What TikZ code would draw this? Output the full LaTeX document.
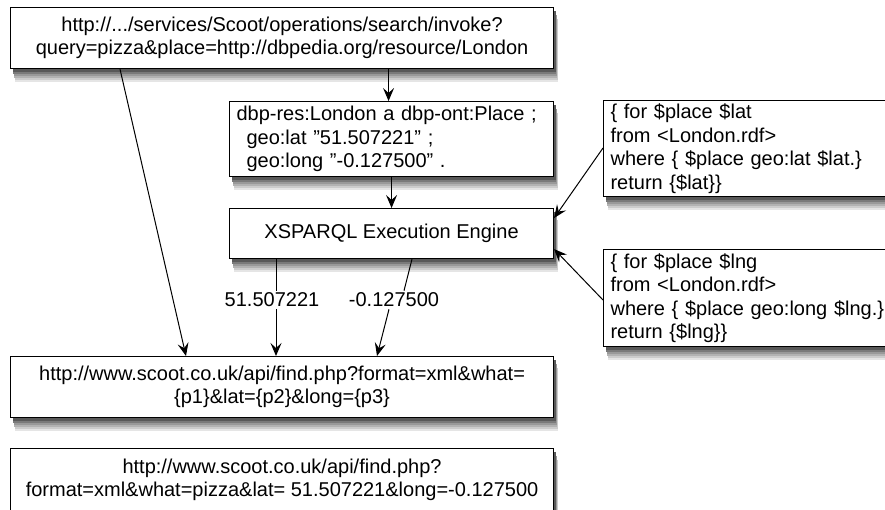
\documentclass[tikz,border=0pt]{standalone}
\usepackage{fontspec}
\setmainfont{Liberation Sans}
\usetikzlibrary{arrows.meta,calc,shadows}
\newcommand\qq{\symbol{"0022}}
\begin{document}
\begin{tikzpicture}[x=1pt,y=-1pt,
  box/.style={draw=black,line width=1.1pt,fill=white,inner xsep=7pt,inner ysep=0pt,
    anchor=north west,font=\fontsize{20}{23.5}\selectfont,
    general shadow={fill=black!10,shadow xshift=4.5pt,shadow yshift=-13pt},
    general shadow={fill=black!20,shadow xshift=4pt,shadow yshift=-11pt},
    general shadow={fill=black!30,shadow xshift=3.5pt,shadow yshift=-9pt},
    general shadow={fill=black!40,shadow xshift=3pt,shadow yshift=-7pt},
    general shadow={fill=black!52,shadow xshift=2.5pt,shadow yshift=-5pt},
    general shadow={fill=black!65,shadow xshift=2pt,shadow yshift=-3pt}},
  lbl/.style={inner sep=2pt,font=\fontsize{20}{23.5}\selectfont},
  arr/.style={line width=1pt,-{Stealth[length=13pt,width=11pt,inset=5pt]}},
  ln/.style={line width=1pt}]
\useasboundingbox (0,0) rectangle (885,509);
\clip (0,0) rectangle (885,509);
% boxes
\node[box,minimum width=543pt,minimum height=61pt,align=center] (top) at (10,7)
  {http://.../services/Scoot/operations/search/invoke?\\query=pizza\&place=http://dbpedia.org/resource/London};
\node[box,minimum width=324pt,minimum height=75pt,text width=310pt,align=left] (dbp) at (229,101)
  {dbp-res:London a dbp-ont:Place ;\\\hspace*{10pt}geo:lat \qq51.507221\qq{} ;\\\hspace*{10pt}geo:long \qq-0.127500\qq{} .};
\node[box,minimum width=324pt,minimum height=50pt,align=center] (eng) at (229,208)
  {XSPARQL Execution Engine};
\node[box,minimum width=290pt,minimum height=96pt,text width=276pt,align=left,inner xsep=7pt] (lat) at (603,100)
  {\{ for \$place \$lat\\from <London.rdf>\\where \{ \$place geo:lat \$lat.\}\\return \{\$lat\}\}};
\node[box,minimum width=290pt,minimum height=97pt,text width=276pt,align=left,inner xsep=7pt] (lng) at (603,249)
  {\{ for \$place \$lng\\from <London.rdf>\\where \{ \$place geo:long \$lng.\}\\return \{\$lng\}\}};
\node[box,minimum width=543pt,minimum height=61pt,align=center] (url) at (10,356)
  {http://www.scoot.co.uk/api/find.php?format=xml\&what=\\\{p1\}\&lat=\{p2\}\&long=\{p3\}};
\node[box,minimum width=543pt,minimum height=63pt,align=center] (res) at (10,448)
  {http://www.scoot.co.uk/api/find.php?\\format=xml\&what=pizza\&lat= 51.507221\&long=-0.127500};
% labels
\node[lbl] (v1) at (272,300) {51.507221};
\node[lbl] (v2) at (394,300) {-0.127500};
% connectors
\draw[arr] ([xshift=-3pt]dbp.north |- top.south) -- ([xshift=-3pt]dbp.north);
\draw[arr] (dbp.south) -- (eng.north);
\draw[arr] ($(top.south west)+(110,0)$) -- ($(url.north west)+(176,0)$);
\draw[ln] ($(eng.south west)+(47,0)$) -- (v1.north -| 276,0);
\draw[arr] (v1.south -| 276,0) -- ($(url.north west)+(266,0)$);
\draw[ln] ($(eng.south west)+(183,0)$) -- ($(v2.north)+(10,0)$);
\draw[arr] ($(v2.south)+(-5,0)$) -- ($(url.north west)+(367,0)$);
\draw[arr] ($(lat.north west)+(0,48)$) -- ($(eng.north east)+(0,10)$);
\draw[arr] ($(lng.north west)+(0,51)$) -- ($(eng.south east)+(0,-10)$);
\end{tikzpicture}
\end{document}
